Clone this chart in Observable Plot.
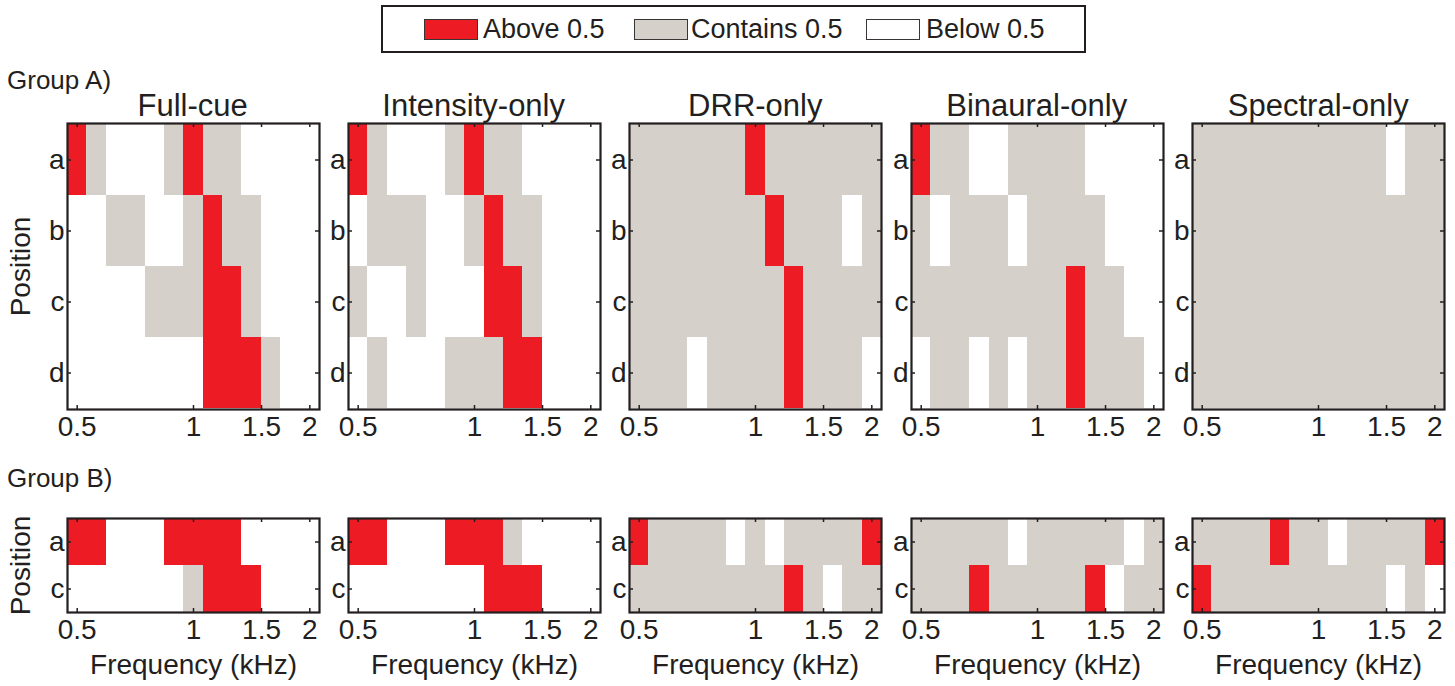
<!DOCTYPE html>
<html>
<head>
<meta charset="utf-8">
<script src="https://cdn.jsdelivr.net/npm/d3@7"></script>
<script src="https://cdn.jsdelivr.net/npm/@observablehq/plot@0.6"></script>
<style>
  body { margin: 0; background: #fff; }
  #root { position: relative; width: 1455px; height: 686px; overflow: hidden;
          font-family: 'Liberation Sans', Arial, Helvetica, sans-serif; color: #231f20; background: #fff; }
  .abs { position: absolute; white-space: nowrap; line-height: 1; }
  .panel { position: absolute; }
</style>
</head>
<body>
<div id="root"></div>
<script>
// ---------------- DATA ----------------
// 1/6-octave band centre frequencies (kHz)
const freqs = [0.5, 0.561, 0.63, 0.707, 0.794, 0.891, 1, 1.122, 1.26, 1.414, 1.587, 1.782, 2];
const xTickValues = [0.5, 1, 1.5, 2];
const cues = ["Full-cue", "Intensity-only", "DRR-only", "Binaural-only", "Spectral-only"];
const groups = ["Group A)", "Group B)"];
const rowsA = ["a", "b", "c", "d"];
const rowsB = ["a", "c"];
const categoryCodes = ["R", "G", "W"];
const categoryNames = ["Above 0.5", "Contains 0.5", "Below 0.5"];
// R = above 0.5, G = contains 0.5, W = below 0.5 ; one string per position, one char per band
const groupA_fullCue   = ["RGWWWGRGGWWWW", "WWGGWWGRGGWWW", "WWWWGGGRRGWWW", "WWWWWWWRRRGWW"];
const groupA_intensity = ["RGWWWGRGGWWWW", "WGGGWWGRGGWWW", "GWWGWWWRRGWWW", "WGWWWGGGRRWWW"];
const groupA_drr       = ["GGGGGGRGGGGGG", "GGGGGGGRGGGWG", "GGGGGGGGRGGGG", "GGGWGGGGRGGGW"];
const groupA_binaural  = ["RGGWWGGGGWWWW", "GWGGGWGGGGWWW", "GGGGGGGGRGGWW", "WGGWGWGGRGGGW"];
const groupA_spectral  = ["GGGGGGGGGGWGG", "GGGGGGGGGGGGG", "GGGGGGGGGGGGG", "GGGGGGGGGGGGG"];
const groupB_fullCue   = ["RRWWWRRRRWWWW", "WWWWWWGRRRWWW"];
const groupB_intensity = ["RRWWWRRRGWWWW", "WWWWWWWRRRWWW"];
const groupB_drr       = ["RGGGGWGWGGGGR", "GGGGGGGGRGWGG"];
const groupB_binaural  = ["GGGGGWGGGGGWG", "GGGRGGGGGRWGG"];
const groupB_spectral  = ["GGGGRGGWGGGGR", "RGGGGGGGGGWGW"];

// ---------------- STYLE / LAYOUT ----------------
const RED = "#ED1C24", GRAY = "#D6D0CB", WHITE = "#FFFFFF", INK = "#231f20";
const colorRange = [RED, GRAY, WHITE];
const frameLefts = [66.7, 347.7, 629.3, 910.7, 1192.3];
const frameW = 252;
const layoutA = {frameTop: 123.3, frameH: 286, marginBottom: 40};
const layoutB = {frameTop: 518.3, frameH: 94, marginBottom: 72};
const halfBand = Math.pow(2, 1 / 12);
const xDomain = [freqs[0] / halfBand, freqs[freqs.length - 1] * halfBand];

const root = document.getElementById("root");

function addText(txt, left, top, size, extra = {}) {
  const d = document.createElement("div");
  d.className = "abs";
  d.textContent = txt;
  d.style.left = left + "px";
  d.style.top = top + "px";
  d.style.fontSize = size + "px";
  Object.assign(d.style, extra);
  root.appendChild(d);
  return d;
}

// ---------------- LEGEND ----------------
const box = document.createElement("div");
box.className = "abs";
Object.assign(box.style, {left: "381px", top: "5px", width: "701px", height: "44px",
  border: "2px solid " + INK, background: "#fff"});
root.appendChild(box);
const legendSwatchX = [424, 634, 866];
const legendTextX = [483, 691, 926];
categoryNames.forEach((name, i) => {
  const sw = document.createElement("div");
  sw.className = "abs";
  Object.assign(sw.style, {left: legendSwatchX[i] + "px", top: "19px", width: "52px", height: "19px",
    background: colorRange[i], border: "1px solid #3a3535"});
  root.appendChild(sw);
  addText(name, legendTextX[i], 16, 27);
});

// ---------------- GROUP LABELS ----------------
addText(groups[0], 7, 67, 26);
addText(groups[1], 7, 465, 26);

// ---------------- TITLES ----------------
cues.forEach((c, i) => {
  addText(c, frameLefts[i], 89.5, 31, {width: frameW + "px", textAlign: "center"});
});

// ---------------- PANELS ----------------
function toRecords(rows, strings) {
  const out = [];
  rows.forEach((r, ri) => {
    freqs.forEach((f, k) => {
      out.push({row: r, freq: f, x1: f / halfBand, x2: f * halfBand, cat: strings[ri][k]});
    });
  });
  return out;
}

function panel(rows, strings, col, layout, isBottom) {
  const marginLeft = col === 0 ? 66 : 26;
  const marginRight = 3, marginTop = 4;
  const width = marginLeft + frameW + marginRight;
  const height = marginTop + layout.frameH + layout.marginBottom;
  const data = toRecords(rows, strings);
  const chart = Plot.plot({
    width, height, marginLeft, marginRight, marginTop, marginBottom: layout.marginBottom,
    style: {fontSize: "28px", fontFamily: "'Liberation Sans', Arial, Helvetica, sans-serif",
            color: INK, background: "transparent", overflow: "visible"},
    x: {type: "log", domain: xDomain, ticks: xTickValues, tickFormat: d => String(d),
        tickSize: 0, tickPadding: 7,
        label: isBottom ? "Frequency (kHz)" : null, labelAnchor: "center", labelOffset: 61, labelArrow: "none"},
    y: {domain: rows, padding: 0, tickSize: 0, tickPadding: 3,
        label: col === 0 ? "Position" : null, labelAnchor: "center", labelOffset: 57},
    color: {domain: categoryCodes, range: colorRange},
    marks: [
      Plot.barX(data, {x1: "x1", x2: "x2", y: "row", fill: "cat", shapeRendering: "crispEdges"}),
      Plot.ruleX(xTickValues, {x: d => d, insetBottom: layout.frameH - 4, stroke: INK, strokeWidth: 1.5}),
      Plot.ruleX(xTickValues, {x: d => d, insetTop: layout.frameH - 4, stroke: INK, strokeWidth: 1.5}),
      Plot.ruleY(rows, {y: d => d, insetRight: frameW - 4, stroke: INK, strokeWidth: 1.5}),
      Plot.ruleY(rows, {y: d => d, insetLeft: frameW - 4, stroke: INK, strokeWidth: 1.5}),
      Plot.frame({stroke: INK, strokeWidth: 2.2})
    ]
  });
  chart.classList.add("panel");
  chart.style.left = (frameLefts[col] - marginLeft) + "px";
  chart.style.top = (layout.frameTop - marginTop) + "px";
  root.appendChild(chart);
}

const groupAData = [groupA_fullCue, groupA_intensity, groupA_drr, groupA_binaural, groupA_spectral];
const groupBData = [groupB_fullCue, groupB_intensity, groupB_drr, groupB_binaural, groupB_spectral];
groupAData.forEach((s, i) => panel(rowsA, s, i, layoutA, false));
groupBData.forEach((s, i) => panel(rowsB, s, i, layoutB, true));
</script>
</body>
</html>
